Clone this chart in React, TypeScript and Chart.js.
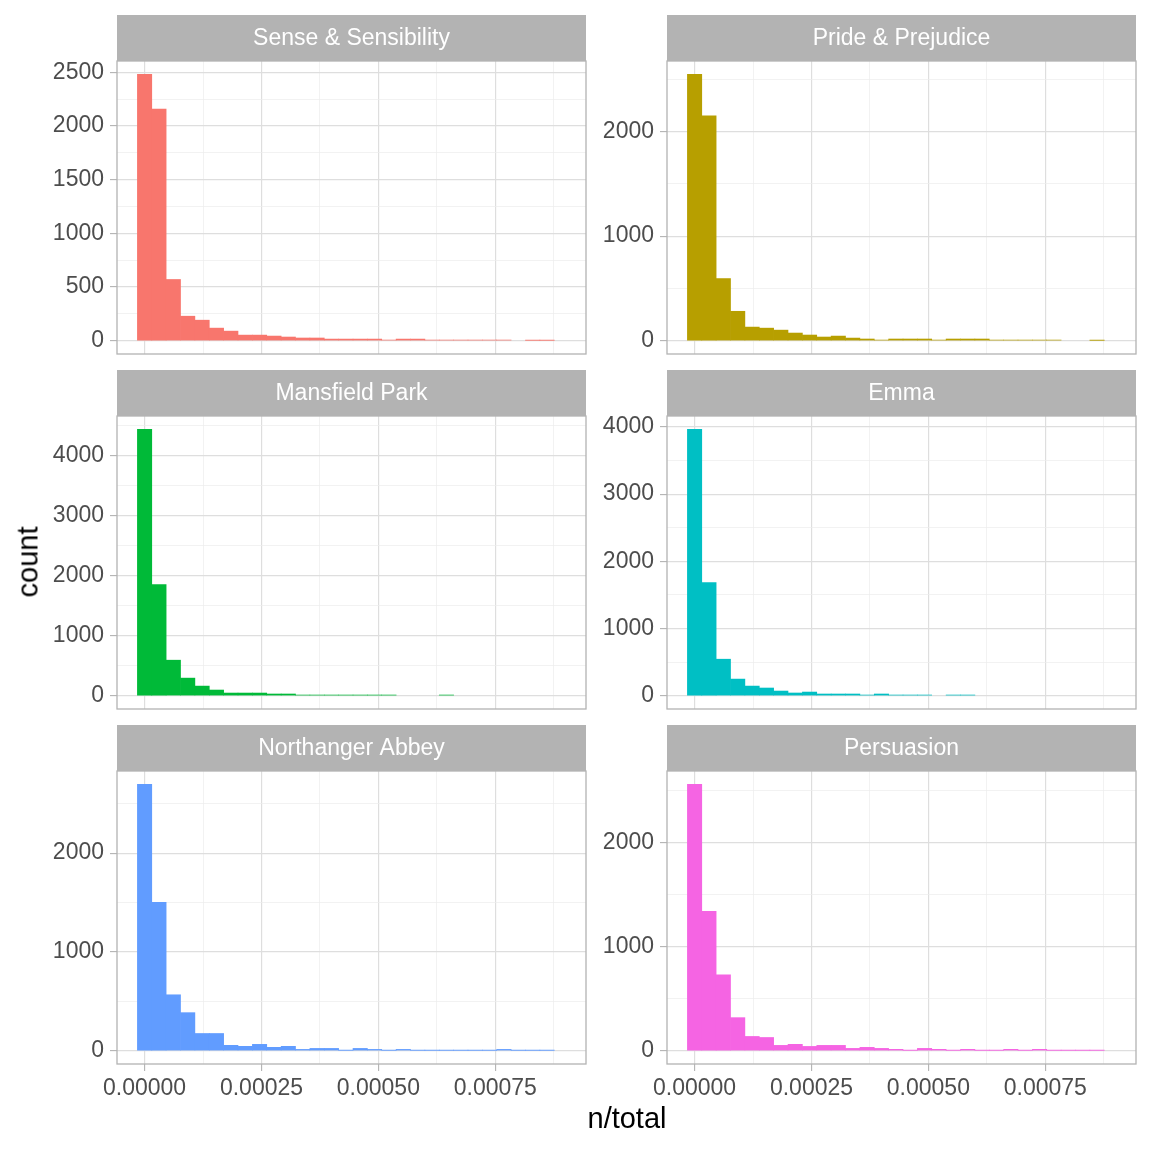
import React, { useEffect, useRef } from "react";
import { Chart, registerables } from "chart.js";

Chart.register(...registerables);

// ---------------- data ----------------
const BOOKS = [
  "Sense & Sensibility",
  "Pride & Prejudice",
  "Mansfield Park",
  "Emma",
  "Northanger Abbey",
  "Persuasion",
];

const COLORS = ["#F8766D", "#B79F00", "#00BA38", "#00BFC4", "#619CFF", "#F564E3"];

// histogram bin centres (n/total), 30 bins
const BIN_CENTERS = [
  0.0, 0.0000307, 0.0000615, 0.0000922, 0.000123, 0.0001537, 0.0001844, 0.0002152,
  0.0002459, 0.0002767, 0.0003074, 0.0003381, 0.0003689, 0.0003996, 0.0004304,
  0.0004611, 0.0004918, 0.0005226, 0.0005533, 0.0005841, 0.0006148, 0.0006455,
  0.0006763, 0.000707, 0.0007378, 0.0007685, 0.0007992, 0.00083, 0.0008607, 0.0008915,
];

const SENSE_COUNTS = [2481, 2158, 570, 228, 191, 117, 89, 52, 52, 43, 34, 25, 25, 15, 15, 15, 15, 6, 15, 15, 6, 6, 6, 6, 6, 6, 0, 3, 3, 0];
const PRIDE_COUNTS = [2547, 2149, 594, 281, 130, 120, 101, 73, 54, 35, 44, 25, 16, 6, 16, 16, 16, 6, 16, 16, 16, 6, 6, 6, 6, 6, 0, 0, 3, 0];
const MANSFIELD_COUNTS = [4443, 1853, 592, 293, 160, 94, 44, 44, 44, 28, 28, 11, 11, 11, 11, 11, 11, 11, 0, 0, 0, 11, 0, 0, 0, 0, 0, 0, 0, 0];
const EMMA_COUNTS = [3965, 1684, 543, 247, 143, 114, 69, 40, 54, 25, 25, 25, 10, 25, 10, 10, 10, 0, 10, 10, 0, 0, 0, 0, 0, 0, 0, 0, 0, 0];
const NORTHANGER_COUNTS = [2697, 1501, 566, 385, 174, 174, 54, 44, 64, 34, 44, 13, 23, 23, 3, 23, 13, 3, 13, 3, 3, 3, 3, 3, 3, 13, 3, 3, 3, 0];
const PERSUASION_COUNTS = [2564, 1341, 729, 318, 137, 127, 51, 61, 41, 51, 51, 22, 32, 22, 13, 3, 22, 13, 3, 13, 3, 3, 13, 3, 13, 3, 3, 3, 3, 0];

const ALL_COUNTS = [SENSE_COUNTS, PRIDE_COUNTS, MANSFIELD_COUNTS, EMMA_COUNTS, NORTHANGER_COUNTS, PERSUASION_COUNTS];

// y-axis major tick step per panel (minor grid at half step)
const Y_STEPS = [500, 1000, 1000, 1000, 1000, 1000];

// x-axis major ticks (minor grid at half step)
const X_STEP = 0.00025;
const X_MIN = -0.000059;
const X_MAX = 0.000944;

const X_TITLE = "n/total";
const Y_TITLE = "count";

// ---------------- layout / style ----------------
const FONT = '"Liberation Sans", Arial, Helvetica, sans-serif';
const PANEL_W = 469;
const PANEL_H = 293;
const STRIP_H = 46;
const COL_PANEL_LEFT = [117, 667];
const COL_CANVAS_LEFT = [0, 596];
const ROW_STRIP_TOP = [15, 370, 725];
const X_AXIS_H = 44;

const GRID_MAJOR = "#DEDEDE";
const GRID_MINOR = "#EDEDED";
const BORDER = "#B3B3B3";

const isMultiple = (v: number, step: number) => {
  const q = v / step;
  return Math.abs(q - Math.round(q)) < 1e-6;
};

const panelDecor = {
  id: "panelDecor",
  afterDraw(chart: any, _args: any, opts: any) {
    const { ctx, chartArea } = chart;
    const { left, right, top, bottom } = chartArea;
    ctx.save();
    ctx.fillStyle = BORDER;
    ctx.fillRect(left, top - STRIP_H, right - left, STRIP_H);
    ctx.fillStyle = "#FFFFFF";
    ctx.font = `23px ${FONT}`;
    ctx.textAlign = "center";
    ctx.textBaseline = "middle";
    ctx.fillText(opts.title, (left + right) / 2, top - STRIP_H / 2 + 1);
    ctx.strokeStyle = BORDER;
    ctx.lineWidth = 1.3;
    ctx.strokeRect(left, top, right - left, bottom - top);
    ctx.restore();
  },
};

function Panel({ index }: { index: number }) {
  const ref = useRef<HTMLCanvasElement | null>(null);
  const r = Math.floor(index / 2);
  const c = index % 2;
  const isBottom = r === 2;
  const canvasLeft = COL_CANVAS_LEFT[c];
  const yAxisW = COL_PANEL_LEFT[c] - canvasLeft;
  const padRight = 4;
  const padBottom = isBottom ? 0 : 24;
  const xAxisH = isBottom ? X_AXIS_H : 0;
  const width = yAxisW + PANEL_W + padRight;
  const height = STRIP_H + PANEL_H + xAxisH + padBottom;
  const top = ROW_STRIP_TOP[r];

  useEffect(() => {
    const counts = ALL_COUNTS[index];
    const maxC = Math.max(...counts);
    const yMin = -0.05 * maxC;
    const yMax = 1.05 * maxC;
    const yStep = Y_STEPS[index];

    const chart = new Chart(ref.current as HTMLCanvasElement, {
      type: "bar",
      data: {
        datasets: [
          {
            data: BIN_CENTERS.map((x, i) => ({ x, y: counts[i] === 0 ? null : counts[i] })),
            backgroundColor: COLORS[index],
            borderWidth: 0,
            barPercentage: 1,
            categoryPercentage: 1,
          } as any,
        ],
      },
      options: {
        animation: false,
        responsive: true,
        maintainAspectRatio: false,
        events: [],
        layout: { padding: { top: STRIP_H, right: padRight, bottom: padBottom, left: 0 } },
        plugins: {
          legend: { display: false },
          tooltip: { enabled: false },
          panelDecor: { title: BOOKS[index] },
        } as any,
        scales: {
          x: {
            type: "linear",
            min: X_MIN,
            max: X_MAX,
            offset: false,
            border: { display: false },
            grid: {
              offset: false,
              drawTicks: isBottom,
              tickLength: 7,
              tickWidth: 1.1,
              color: (ctx: any) => (isMultiple(ctx.tick?.value ?? 0, X_STEP) ? GRID_MAJOR : GRID_MINOR),
              lineWidth: (ctx: any) => (isMultiple(ctx.tick?.value ?? 0, X_STEP) ? 1.2 : 0.7),
              tickColor: (ctx: any) => (isMultiple(ctx.tick?.value ?? 0, X_STEP) ? BORDER : "rgba(0,0,0,0)"),
            },
            ticks: {
              display: isBottom,
              autoSkip: false,
              maxRotation: 0,
              minRotation: 0,
              padding: 4,
              color: "#4D4D4D",
              font: { family: FONT, size: 23 },
              callback: (v: any) => (isMultiple(Number(v), X_STEP) ? Number(v).toFixed(5) : ""),
            },
            afterBuildTicks: (scale: any) => {
              const t = [];
              for (let k = 0; k * (X_STEP / 2) <= X_MAX; k++) t.push({ value: k * (X_STEP / 2) });
              scale.ticks = t;
            },
            afterFit: (scale: any) => {
              scale.height = xAxisH;
            },
          } as any,
          y: {
            type: "linear",
            min: yMin,
            max: yMax,
            border: { display: false },
            grid: {
              drawTicks: true,
              tickLength: 7,
              tickWidth: 1.1,
              color: (ctx: any) => (isMultiple(ctx.tick?.value ?? 0, yStep) ? GRID_MAJOR : GRID_MINOR),
              lineWidth: (ctx: any) => (isMultiple(ctx.tick?.value ?? 0, yStep) ? 1.2 : 0.7),
              tickColor: (ctx: any) => (isMultiple(ctx.tick?.value ?? 0, yStep) ? BORDER : "rgba(0,0,0,0)"),
            },
            ticks: {
              autoSkip: false,
              padding: 6,
              color: "#4D4D4D",
              font: { family: FONT, size: 23 },
              callback: (v: any) => (isMultiple(Number(v), yStep) ? String(Number(v)) : ""),
            },
            afterBuildTicks: (scale: any) => {
              const t = [];
              for (let k = 0; k * (yStep / 2) <= yMax; k++) t.push({ value: k * (yStep / 2) });
              scale.ticks = t;
            },
            afterFit: (scale: any) => {
              scale.width = yAxisW;
            },
          } as any,
        },
      },
      plugins: [panelDecor as any],
    });
    return () => chart.destroy();
  }, [index]);

  return (
    <div style={{ position: "absolute", left: canvasLeft, top, width, height }}>
      <canvas ref={ref} />
    </div>
  );
}

export default function App() {
  return (
    <div
      style={{
        position: "absolute",
        left: 0,
        top: 0,
        width: 1152,
        height: 1152,
        background: "#FFFFFF",
        overflow: "hidden",
        fontFamily: FONT,
      }}
    >
      {BOOKS.map((_, i) => (
        <Panel key={i} index={i} />
      ))}
      <div
        style={{
          position: "absolute",
          left: 28,
          top: 562,
          transform: "translate(-50%, -50%) rotate(-90deg)",
          fontSize: 29,
          lineHeight: 1,
          whiteSpace: "nowrap",
          color: "#000000",
        }}
      >
        {Y_TITLE}
      </div>
      <div
        style={{
          position: "absolute",
          left: 627,
          top: 1118,
          transform: "translate(-50%, -50%)",
          fontSize: 29,
          lineHeight: 1,
          whiteSpace: "nowrap",
          color: "#000000",
        }}
      >
        {X_TITLE}
      </div>
    </div>
  );
}
